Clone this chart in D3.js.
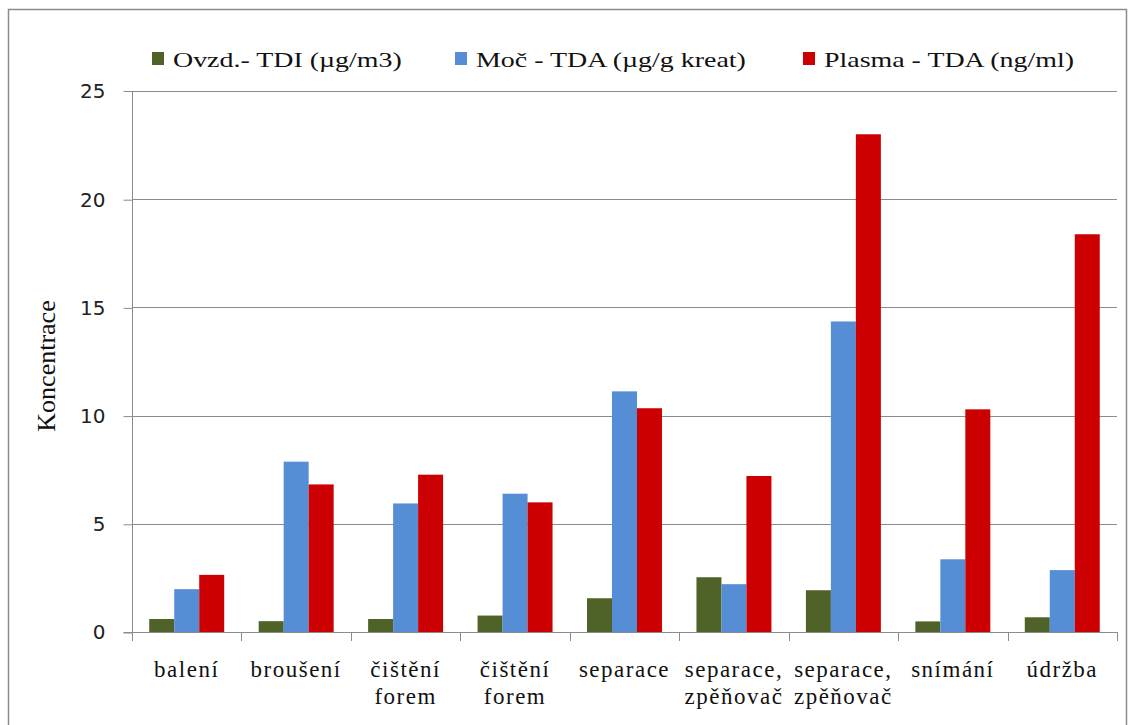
<!DOCTYPE html>
<html>
<head>
<meta charset="utf-8">
<script src="https://cdn.jsdelivr.net/npm/d3@7"></script>
</head>
<body style="margin:0;background:#fff">
<svg id="chart" width="1130" height="725" style="display:block"></svg>
<script>
// Categories (work activities); multi-line labels split on "|"
const categories = [
  "balení", "broušení", "čištění|forem", "čištění|forem", "separace",
  "separace,|zpěňovač", "separace,|zpěňovač", "snímání", "údržba"
];
const seriesNames = ["Ovzd.- TDI (µg/m3)", "Moč - TDA (µg/g kreat)", "Plasma - TDA (ng/ml)"];
const seriesColors = ["#4F6228", "#558ED5", "#CC0000"];
const ovzdTDI   = [0.60, 0.50, 0.60, 0.76, 1.56, 2.53, 1.93, 0.49, 0.68];
const mocTDA    = [1.98, 7.87, 5.94, 6.39, 11.12, 2.21, 14.35, 3.36, 2.86];
const plasmaTDA = [2.64, 6.82, 7.27, 5.99, 10.34, 7.21, 23.00, 10.29, 18.38];
const yTicks = [0, 5, 10, 15, 20, 25];

const SERIF = '"Liberation Serif", "Times New Roman", serif';
const SANS = '"DejaVu Sans", sans-serif';

const seriesValues = [ovzdTDI, mocTDA, plasmaTDA];
const data = categories.map((c, i) => ({
  idx: i,
  label: c,
  values: seriesValues.map((s, k) => ({ k, v: s[i] }))
}));

const svg = d3.select("#chart");
const plot = { left: 132, right: 1117, top: 91, bottom: 632 };

// Outer frame
svg.append("rect")
  .attr("x", 8.5).attr("y", 9.5)
  .attr("width", 1118).attr("height", 730)
  .attr("fill", "none").attr("stroke", "#8c8c8c").attr("stroke-width", 1.5);

const x = d3.scaleBand()
  .domain(d3.range(categories.length))
  .range([plot.left, plot.right])
  .paddingInner(0.315).paddingOuter(0.1575);

const xs = d3.scaleBand()
  .domain(d3.range(3))
  .range([0, x.bandwidth()]);

const y = d3.scaleLinear().domain([0, 25]).range([plot.bottom, plot.top]);

// Horizontal gridlines
svg.append("g").selectAll("line")
  .data(yTicks.filter(t => t > 0))
  .join("line")
  .attr("x1", plot.left).attr("x2", plot.right)
  .attr("y1", d => Math.round(y(d)) + 0.5).attr("y2", d => Math.round(y(d)) + 0.5)
  .attr("stroke", "#8c8c8c").attr("stroke-width", 1);

// Bars
const groups = svg.append("g").selectAll("g")
  .data(data)
  .join("g")
  .attr("transform", d => `translate(${x(d.idx)},0)`);

groups.selectAll("rect")
  .data(d => d.values)
  .join("rect")
  .attr("x", d => xs(d.k))
  .attr("width", xs.bandwidth())
  .attr("y", d => y(d.v))
  .attr("height", d => y(0) - y(d.v))
  .attr("fill", d => seriesColors[d.k]);

// Y axis
const yAxis = d3.axisLeft(y).tickValues(yTicks).tickSize(9).tickPadding(18).tickFormat(d3.format("d"));
const gy = svg.append("g")
  .attr("transform", `translate(${plot.left + 0.5},0.5)`)
  .call(yAxis);
gy.select(".domain").attr("stroke", "#8c8c8c").attr("d", `M-9,${plot.top}H0V${plot.bottom}H-9`);
gy.selectAll(".tick line").attr("stroke", "#8c8c8c");
gy.selectAll(".tick text")
  .style("font-family", SANS)
  .style("font-size", "20px").attr("fill", "#222");
gy.selectAll(".tick").filter(d => d === 25).select("line").remove();

// X axis: baseline with boundary ticks
const boundaries = d3.range(categories.length + 1)
  .map(i => plot.left + i * (plot.right - plot.left) / categories.length);
const gx = svg.append("g");
gx.append("line")
  .attr("x1", plot.left).attr("x2", plot.right)
  .attr("y1", plot.bottom + 0.5).attr("y2", plot.bottom + 0.5)
  .attr("stroke", "#8c8c8c");
gx.selectAll("line.tk").data(boundaries).join("line")
  .attr("class", "tk")
  .attr("x1", d => Math.round(d) + 0.5).attr("x2", d => Math.round(d) + 0.5)
  .attr("y1", plot.bottom).attr("y2", plot.bottom + 9)
  .attr("stroke", "#8c8c8c");

// Category labels
const labels = gx.selectAll("text.cat").data(data).join("text")
  .attr("class", "cat")
  .attr("x", d => x(d.idx) + x.bandwidth() / 2)
  .attr("y", 677)
  .attr("text-anchor", "middle")
  .style("font-family", SERIF)
  .style("font-size", "23px")
  .style("letter-spacing", "1.5px")
  .attr("fill", "#111");
labels.selectAll("tspan")
  .data(d => d.label.split("|"))
  .join("tspan")
  .attr("x", function () { return d3.select(this.parentNode).attr("x"); })
  .attr("dy", (d, i) => i === 0 ? 0 : 27)
  .text(d => d);

// Y axis title
svg.append("text")
  .attr("transform", "translate(55,366) rotate(-90)")
  .attr("text-anchor", "middle")
  .style("font-family", SERIF)
  .style("font-size", "26px")
  .attr("fill", "#111")
  .text("Koncentrace");

// Legend (text drawn slightly widened horizontally)
const legendX = [152, 455, 803];
const legend = svg.append("g").selectAll("g")
  .data(seriesNames)
  .join("g")
  .attr("transform", (d, i) => `translate(${legendX[i]},0)`);
legend.append("rect")
  .attr("x", 0).attr("y", 52).attr("width", 12).attr("height", 13)
  .attr("fill", (d, i) => seriesColors[i]);
legend.append("text")
  .attr("transform", "translate(21,67) scale(1.27,1)")
  .style("font-family", SERIF)
  .style("font-size", "22px")
  .attr("fill", "#111")
  .text(d => d);
</script>
</body>
</html>
